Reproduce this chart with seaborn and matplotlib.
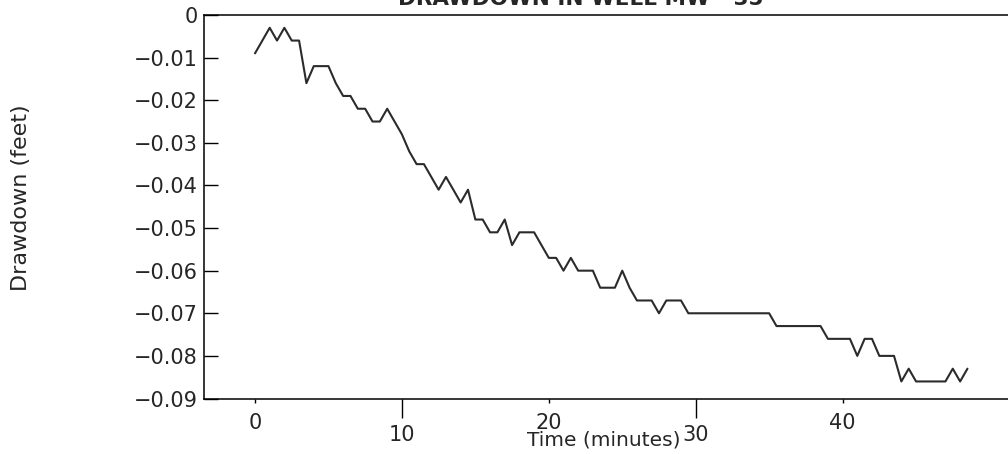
import matplotlib
matplotlib.use("Agg")
import matplotlib.pyplot as plt
import seaborn as sns
import pandas as pd

# ---- data ----
time_min = [0, 1, 1.5, 2, 2.5, 3, 3.5, 4, 5, 5.5,
            6, 6.5, 7, 7.5, 8, 8.5, 9, 9.5, 10, 10.5,
            11, 11.5, 12, 12.5, 13, 13.5, 14, 14.5, 15, 15.5,
            16, 16.5, 17, 17.5, 18, 19, 19.5, 20, 20.5, 21,
            21.5, 22, 23, 23.5, 24.5, 25, 25.5, 26, 27, 27.5,
            28, 29, 29.5, 35, 35.5, 38.5, 39, 40.5, 41, 41.5,
            42, 42.5, 43.5, 44, 44.5, 45, 47, 47.5, 48, 48.5]
drawdown_ft = [-0.009, -0.003, -0.006, -0.003, -0.006, -0.006, -0.016, -0.012, -0.012, -0.016,
               -0.019, -0.019, -0.022, -0.022, -0.025, -0.025, -0.022, -0.025, -0.028, -0.032,
               -0.035, -0.035, -0.038, -0.041, -0.038, -0.041, -0.044, -0.041, -0.048, -0.048,
               -0.051, -0.051, -0.048, -0.054, -0.051, -0.051, -0.054, -0.057, -0.057, -0.060,
               -0.057, -0.060, -0.060, -0.064, -0.064, -0.060, -0.064, -0.067, -0.067, -0.070,
               -0.067, -0.067, -0.070, -0.070, -0.073, -0.073, -0.076, -0.076, -0.080, -0.076,
               -0.076, -0.080, -0.080, -0.086, -0.083, -0.086, -0.086, -0.083, -0.086, -0.083]
major_xticks = [0, 20, 40]
minor_xticks = [10, 30]
yticks = [0, -0.01, -0.02, -0.03, -0.04, -0.05, -0.06, -0.07, -0.08, -0.09]
ytick_labels = ["0", "\u22120.01", "\u22120.02", "\u22120.03", "\u22120.04",
                "\u22120.05", "\u22120.06", "\u22120.07", "\u22120.08", "\u22120.09"]
title = "DRAWDOWN IN WELL MW - 35"
xlabel = "Time (minutes)"
ylabel = "Drawdown (feet)"

sns.set_style("white")
plt.rcParams['font.family'] = ['DejaVu Sans']

W, H = 1008, 454
fig = plt.figure(figsize=(W / 100, H / 100), dpi=100)
left_px, right_px, top_px, bot_px = 204, 1030, 15, 398.5
ax = fig.add_axes([left_px / W, 1 - bot_px / H, (right_px - left_px) / W, (bot_px - top_px) / H])

df = pd.DataFrame({"t": time_min, "d": drawdown_ft})
sns.lineplot(data=df, x="t", y="d", ax=ax, color="#2b2b2b", linewidth=1.5,
             estimator=None, sort=False)

x0_px, px_per_min = 255.0, 14.69
ax.set_xlim((left_px - x0_px) / px_per_min, (right_px - x0_px) / px_per_min)
ax.set_ylim(-0.09, 0)

for s in ["left", "top", "bottom"]:
    ax.spines[s].set_visible(True)
    ax.spines[s].set_color("black")
    ax.spines[s].set_linewidth(1.1)
ax.spines["right"].set_visible(False)

ax.set_yticks(yticks)
ax.set_yticklabels(ytick_labels)
ax.tick_params(axis="y", which="major", direction="in", length=10, width=1.0,
               pad=4.3, labelsize=15, left=True, color="black")

ax.set_xticks(major_xticks)
ax.set_xticklabels([str(v) for v in major_xticks])
ax.set_xticks(minor_xticks, minor=True)
ax.set_xticklabels([str(v) for v in minor_xticks], minor=True)
ax.tick_params(axis="x", which="major", direction="out", length=3, width=1.0,
               pad=7.2, labelsize=15, bottom=True, color="black")
ax.tick_params(axis="x", which="minor", direction="out", length=13.5, width=1.0,
               pad=5.8, labelsize=15, bottom=True, color="black")

ax.set_xlabel(xlabel, fontsize=14.5, va="center", ha="center")
ax.xaxis.set_label_coords(604 / W, 1 - 440 / H, transform=fig.transFigure)
ax.set_ylabel(ylabel, fontsize=16, va="center", ha="center", rotation_mode="anchor")
ax.yaxis.set_label_coords(21 / W, 1 - 198 / H, transform=fig.transFigure)

fig.suptitle(title, x=581 / W, y=1 - 5 / H, va="baseline", ha="center",
             fontsize=15.5, fontweight="bold")

fig.savefig("out.png", dpi=100)
